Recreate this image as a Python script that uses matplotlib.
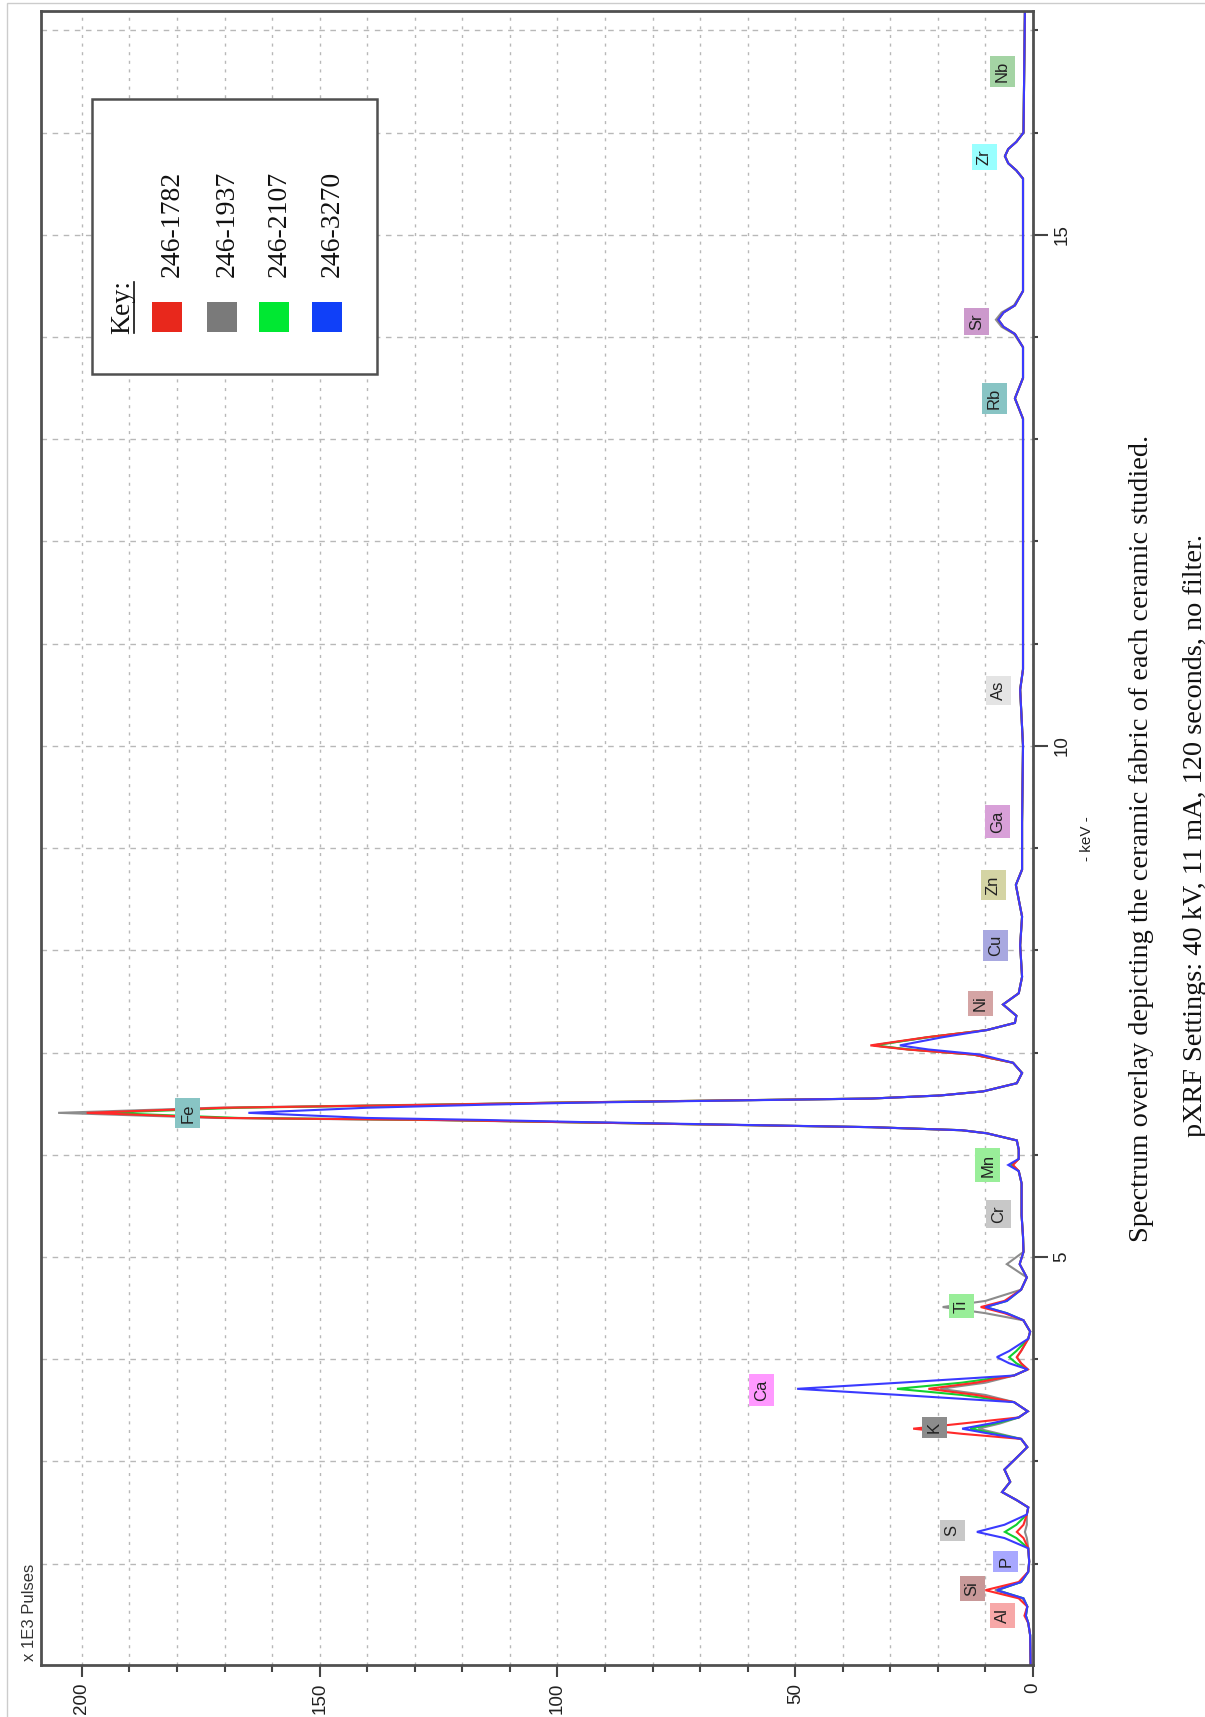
import matplotlib
matplotlib.use('Agg')
import matplotlib.pyplot as plt
from matplotlib.patches import Rectangle
from matplotlib.lines import Line2D
from matplotlib.ticker import FixedLocator

plt.rcParams['font.family'] = ['Liberation Sans', 'DejaVu Sans']

# energy grid (keV) shared by all four spectra
kev = [1.00, 1.30, 1.42, 1.49, 1.58, 1.66, 1.74, 1.82, 1.92, 2.02,
       2.15, 2.25, 2.31, 2.38, 2.48, 2.55, 2.62, 2.70, 2.80, 2.92,
       3.02, 3.14, 3.22, 3.27, 3.32, 3.37, 3.43, 3.49, 3.58, 3.65,
       3.71, 3.77, 3.84, 3.90, 3.96, 4.02, 4.08, 4.20, 4.27, 4.38,
       4.45, 4.51, 4.57, 4.68, 4.80, 4.93, 5.05, 5.20, 5.41, 5.72,
       5.84, 5.90, 5.96, 6.05, 6.14, 6.21, 6.24, 6.27, 6.32, 6.34,
       6.36, 6.41, 6.46, 6.49, 6.51, 6.55, 6.58, 6.62, 6.70, 6.80,
       6.90, 6.98, 7.03, 7.07, 7.15, 7.22, 7.29, 7.36, 7.47, 7.58,
       7.74, 8.05, 8.33, 8.64, 8.79, 9.25, 10.00, 10.55, 10.75, 13.20,
       13.40, 13.60, 13.90, 14.03, 14.10, 14.17, 14.24, 14.31, 14.45, 15.55,
       15.63, 15.70, 15.77, 15.84, 15.91, 16.00, 17.20]

# pulses (x 1E3)
s1782 = [0.5, 0.6, 1.0, 1.8, 1.2, 3.0, 10.0, 3.0, 1.0, 0.8,
         1.0, 2.0, 3.4, 2.0, 1.3, 1.0, 3.4, 6.5, 4.8, 6.0,
         3.8, 1.2, 2.5, 15.0, 25.2, 15.0, 3.0, 1.1, 4.0, 12.0,
         22.0, 12.0, 4.0, 1.1, 2.5, 3.4, 2.5, 1.0, 0.6, 2.0,
         6.0, 11.0, 6.0, 2.5, 1.3, 2.8, 2.0, 2.1, 2.4, 2.4,
         3.0, 4.2, 3.0, 3.0, 3.4, 9.7, 15.0, 34.0, 100.0, 125.0,
         170.0, 199.0, 170.0, 125.0, 100.0, 34.0, 19.5, 10.5, 3.4, 2.3,
         4.2, 12.6, 26.5, 34.2, 22.3, 9.7, 3.8, 3.5, 6.3, 3.0,
         2.3, 2.7, 2.3, 3.6, 2.3, 2.3, 2.1, 2.7, 2.1, 2.1,
         3.8, 2.1, 2.1, 3.8, 6.2, 7.3, 6.2, 3.8, 2.1, 2.1,
         3.5, 5.2, 5.9, 5.2, 3.5, 2.0, 1.7]
s1937 = [0.5, 0.6, 1.0, 1.5, 1.2, 2.2, 8.0, 2.5, 1.0, 0.8,
         1.0, 1.3, 1.7, 1.3, 1.3, 1.0, 3.4, 6.5, 4.8, 6.0,
         3.8, 1.2, 2.5, 7.0, 11.5, 7.0, 3.0, 1.1, 4.0, 10.0,
         19.5, 10.0, 4.0, 1.1, 2.5, 3.4, 2.5, 1.0, 0.6, 2.0,
         10.0, 19.0, 10.0, 2.5, 1.3, 5.5, 2.0, 2.1, 2.4, 2.4,
         3.0, 4.5, 3.0, 3.0, 3.4, 9.7, 15.0, 34.0, 100.0, 128.0,
         172.0, 205.0, 172.0, 128.0, 100.0, 34.0, 19.5, 10.5, 3.4, 2.3,
         4.2, 12.5, 26.0, 33.5, 22.0, 9.7, 3.8, 3.5, 6.3, 3.0,
         2.3, 2.7, 2.3, 3.6, 2.3, 2.3, 2.1, 2.7, 2.1, 2.1,
         3.8, 2.1, 2.1, 4.0, 6.6, 7.8, 6.6, 4.0, 2.1, 2.1,
         3.5, 5.2, 5.9, 5.2, 3.5, 2.0, 1.7]
s2107 = [0.5, 0.6, 1.0, 1.5, 1.2, 2.0, 7.5, 2.5, 1.0, 0.8,
         1.0, 3.5, 5.9, 3.5, 1.3, 1.0, 3.4, 6.5, 4.8, 6.0,
         3.8, 1.2, 2.5, 8.0, 13.2, 8.0, 3.0, 1.1, 4.0, 15.0,
         28.6, 15.0, 4.0, 1.1, 3.5, 5.0, 3.5, 1.0, 0.6, 2.0,
         5.5, 10.0, 5.5, 2.5, 1.3, 2.8, 2.0, 2.1, 2.4, 2.4,
         3.0, 4.5, 3.0, 3.0, 3.4, 9.7, 15.0, 34.0, 100.0, 124.0,
         167.0, 195.0, 167.0, 124.0, 100.0, 34.0, 19.5, 10.5, 3.4, 2.3,
         4.2, 12.5, 26.0, 33.5, 22.0, 9.7, 3.8, 3.5, 6.3, 3.0,
         2.3, 2.7, 2.3, 3.6, 2.3, 2.3, 2.1, 2.7, 2.1, 2.1,
         3.8, 2.1, 2.1, 3.8, 6.2, 7.3, 6.2, 3.8, 2.1, 2.1,
         3.5, 5.2, 5.9, 5.2, 3.5, 2.0, 1.7]
s3270 = [0.5, 0.6, 1.0, 1.5, 1.2, 2.0, 7.6, 2.5, 1.0, 0.8,
         1.0, 6.0, 11.8, 6.0, 1.3, 1.0, 3.4, 6.5, 4.8, 6.0,
         3.8, 1.2, 2.5, 9.0, 14.9, 9.0, 3.0, 1.1, 4.0, 28.0,
         49.6, 28.0, 4.0, 1.1, 5.0, 7.6, 5.0, 1.0, 0.6, 2.0,
         5.5, 10.0, 5.5, 2.5, 1.3, 2.8, 2.0, 2.1, 2.4, 2.4,
         3.0, 5.2, 3.0, 3.0, 3.4, 9.7, 15.0, 34.0, 95.0, 115.0,
         140.0, 165.0, 140.0, 115.0, 95.0, 34.0, 19.5, 10.5, 3.4, 2.3,
         4.2, 11.0, 22.0, 28.0, 19.0, 9.7, 3.8, 3.5, 6.3, 3.0,
         2.3, 2.7, 2.3, 3.6, 2.3, 2.3, 2.1, 2.7, 2.1, 2.1,
         3.8, 2.1, 2.1, 3.8, 6.2, 7.3, 6.2, 3.8, 2.1, 2.1,
         3.5, 5.2, 5.9, 5.2, 3.5, 2.0, 1.7]

samples = ['246-1782', '246-1937', '246-2107', '246-3270']
line_colors = ['#ff2a2a', '#8c8c8c', '#10d030', '#3a3aff']
key_colors = ['#e8281c', '#7a7a7a', '#00e832', '#1040f8']

# element markers: name, keV, pulses where the tag sits, tag colour
elements = ['Al', 'Si', 'P', 'S', 'K', 'Ca', 'Ti', 'Cr', 'Mn', 'Fe',
            'Ni', 'Cu', 'Zn', 'Ga', 'As', 'Rb', 'Sr', 'Zr', 'Nb']
el_kev = [1.49, 1.76, 2.02, 2.32, 3.33, 3.70, 4.52, 5.42, 5.90, 6.41,
          7.48, 8.05, 8.64, 9.26, 10.54, 13.40, 14.15, 15.76, 16.60]
el_pulses = [6.5, 12.8, 5.7, 17.0, 20.8, 57.0, 15.1, 7.2, 9.5, 177.7,
             11.1, 7.8, 8.4, 7.4, 7.2, 8.2, 11.8, 10.3, 6.5]
el_colors = ['#f7a8a8', '#c89898', '#a8a8ff', '#c8c8c8', '#8c8c8c',
             '#ff99ff', '#99ee99', '#c8c8c8', '#99ee99', '#88c4c4',
             '#d4a4a4', '#a8a8e0', '#d4d4a4', '#d8a0d8', '#e4e4e4',
             '#88c4c4', '#cc99cc', '#99ffff', '#a4d4a4']

W, H = 1205, 1717
fig = plt.figure(figsize=(W / 100, H / 100), dpi=100)


def fx(x):
    return x / W


def fy(y):
    return 1 - y / H


# spectrum drawn turned on its side: pulses run right-to-left, keV upwards
ax = fig.add_axes([fx(41), fy(1665), fx(1033) - fx(41), fy(11) - fy(1665)])
for s, c in [(s1937, line_colors[1]), (s2107, line_colors[2]),
             (s1782, line_colors[0]), (s3270, line_colors[3])]:
    ax.plot(s, kev, color=c, lw=1.5, solid_joinstyle='miter')

ax.set_xlim(208.6, 0)
ax.set_ylim(1.008, 17.19)

ax.set_xticks([0, 50, 100, 150, 200], labels=['0', '50', '100', '150', '200'],
              rotation=90, fontsize=13.5, color='#222222')
ax.xaxis.set_minor_locator(FixedLocator([v for v in range(10, 210, 10) if v % 50]))
ax.yaxis.tick_right()
ax.set_yticks([5, 10, 15], labels=['5', '10', '15'], rotation=90, va='center',
              fontsize=13.5, color='#222222')
ax.yaxis.set_minor_locator(FixedLocator([v for v in range(2, 18) if v % 5]))
ax.tick_params(axis='x', which='major', length=8.6, width=1.5, color='#444444', pad=4)
ax.tick_params(axis='x', which='minor', length=5, width=1.5, color='#444444')
ax.tick_params(axis='y', which='major', length=10.8, width=1.5, color='#444444', pad=4)
ax.tick_params(axis='y', which='minor', length=3.6, width=1.5, color='#444444')
ax.grid(which='both', axis='x', color='#b8b8b8', lw=1, ls=(0, (2.2, 4)))
ax.grid(which='both', axis='y', color='#b8b8b8', lw=1, ls=(0, (4, 4)))
for sp in ax.spines.values():
    sp.set_color('#505050')
    sp.set_linewidth(2)

for name, e, p, c in zip(elements, el_kev, el_pulses, el_colors):
    ax.text(p, e, name, rotation=90, ha='center', va='center', fontsize=12,
            color='#222222', zorder=5,
            bbox=dict(boxstyle='square,pad=0.3', fc=c, ec='none'))

fig.text(fx(30), fy(1612), 'x 1E3 Pulses', rotation=90, ha='center', va='center',
         fontsize=12, color='#333333')
fig.text(fx(1087), fy(839), '- keV -', rotation=90, ha='center', va='center',
         fontsize=11, color='#222222')

# key box
fig.add_artist(Rectangle((fx(92), fy(374)), fx(377) - fx(92), fy(99) - fy(374),
                         transform=fig.transFigure, fc='white', ec='#505050',
                         lw=1.8, zorder=10))
fig.text(fx(123), fy(307), 'Key:', rotation=90, ha='center', va='center',
         fontsize=20, family='Liberation Serif', color='#111111', zorder=11)
fig.add_artist(Line2D([fx(134), fx(134)], [fy(333), fy(282)], transform=fig.transFigure,
                      color='#111111', lw=1.2, zorder=11))
for i, (lab, c) in enumerate(zip(samples, key_colors)):
    xc = [167, 222, 274, 327][i]
    fig.add_artist(Rectangle((fx(xc - 15), fy(332)), fx(30), fy(302) - fy(332),
                             transform=fig.transFigure, fc=c, ec='none', zorder=11))
    fig.text(fx(xc + 5), fy(277), lab, rotation=90, ha='center', va='bottom',
             fontsize=20, family='Liberation Serif', color='#111111', zorder=11)

fig.text(fx(1141), fy(838),
         'Spectrum overlay depicting the ceramic fabric of each ceramic studied.',
         rotation=90, ha='center', va='center', fontsize=20.3,
         family='Liberation Serif', color='#111111')
fig.text(fx(1195), fy(835),
         'pXRF Settings: 40 kV, 11 mA, 120 seconds, no filter.',
         rotation=90, ha='center', va='center', fontsize=20.3,
         family='Liberation Serif', color='#111111')

# thin page border
fig.add_artist(Rectangle((fx(7), -0.01), 1.1, 1.01 - 3 / H, transform=fig.transFigure,
                         fill=False, ec='#cccccc', lw=1))

fig.savefig('out.png', dpi=100)
